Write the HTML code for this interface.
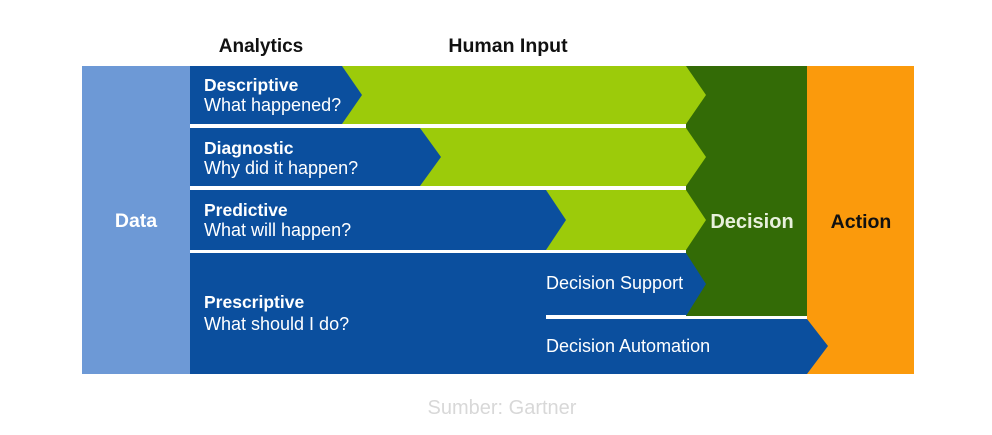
<!DOCTYPE html>
<html><head><style>
body{margin:0;background:#fff;}
</style></head><body>
<svg width="992" height="430" xmlns="http://www.w3.org/2000/svg" font-family="Liberation Sans, sans-serif">
<rect width="992" height="430" fill="#fff"/>
<text x="261" y="52" font-size="19" font-weight="bold" text-anchor="middle" fill="#111">Analytics</text>
<text x="508" y="52" font-size="19.5" font-weight="bold" text-anchor="middle" fill="#111">Human Input</text>
<rect x="82" y="66" width="108" height="308" fill="#6d99d6"/>
<text x="136" y="227" font-size="19.5" font-weight="bold" text-anchor="middle" fill="#fff">Data</text>
<rect x="807" y="66" width="107" height="308" fill="#fb9a0c"/>
<rect x="686" y="66" width="121" height="250" fill="#336b06"/>
<polygon points="190,66 686,66 706,95 686,124 190,124" fill="#9ccb0a"/>
<polygon points="190,66 342,66 362,95 342,124 190,124" fill="#0b4f9e"/>
<polygon points="190,128 686,128 706,157 686,186 190,186" fill="#9ccb0a"/>
<polygon points="190,128 420,128 441,157 420,186 190,186" fill="#0b4f9e"/>
<polygon points="190,190 686,190 706,220 686,250 190,250" fill="#9ccb0a"/>
<polygon points="190,190 546,190 566,220 546,250 190,250" fill="#0b4f9e"/>
<polygon points="190,253 686,253 706,284 686,316 546,316 546,319 807,319 828,346 807,374 190,374" fill="#0b4f9e"/>
<rect x="546" y="315" width="140" height="4" fill="#fff"/>
<text x="752" y="228" font-size="20" font-weight="bold" text-anchor="middle" fill="#e8f0dc">Decision</text>
<text x="861" y="228" font-size="19.5" font-weight="bold" text-anchor="middle" fill="#111">Action</text>
<g fill="#fff" font-size="18">
<text x="204" y="91" font-weight="bold" font-size="17.5">Descriptive</text>
<text x="204" y="111">What happened?</text>
<text x="204" y="154" font-weight="bold" font-size="17.5">Diagnostic</text>
<text x="204" y="174">Why did it happen?</text>
<text x="204" y="216" font-weight="bold" font-size="17.5">Predictive</text>
<text x="204" y="236">What will happen?</text>
<text x="204" y="308" font-weight="bold" font-size="17.5">Prescriptive</text>
<text x="204" y="330">What should I do?</text>
<text x="546" y="289">Decision Support</text>
<text x="546" y="352">Decision Automation</text>
</g>
<text x="502" y="414" font-size="20" text-anchor="middle" fill="#d8d8d8">Sumber: Gartner</text>
</svg>
</body></html>
